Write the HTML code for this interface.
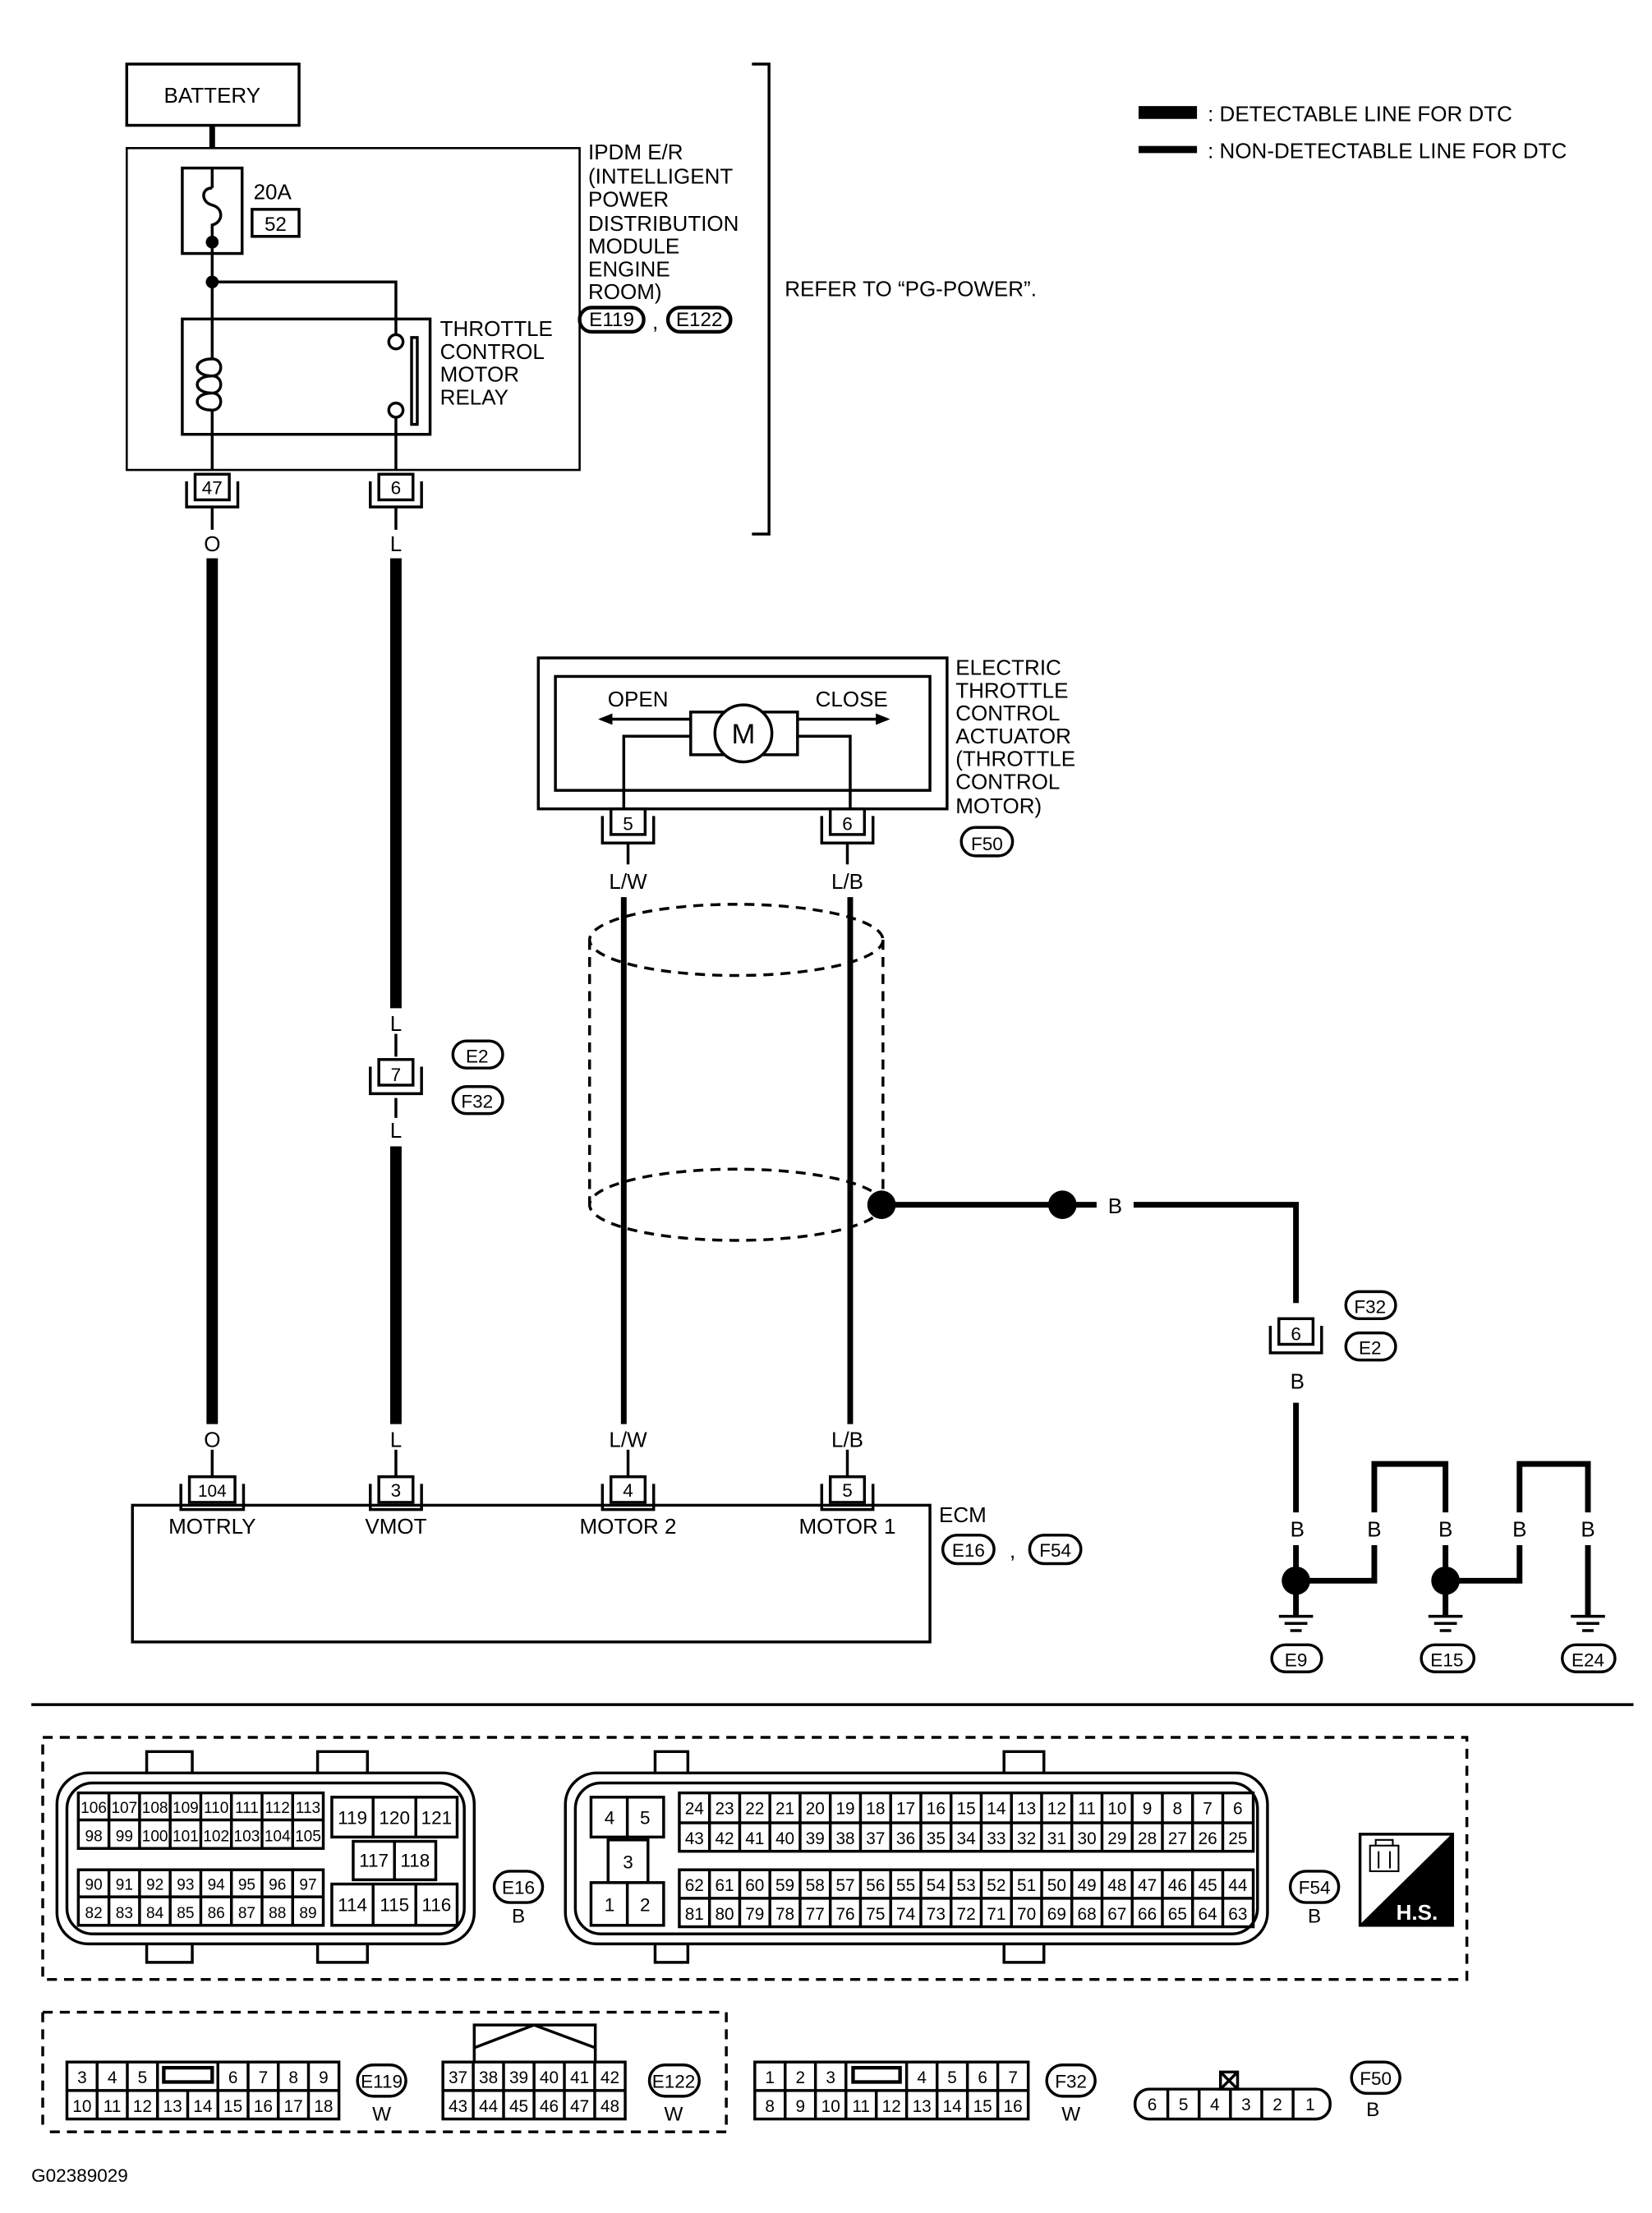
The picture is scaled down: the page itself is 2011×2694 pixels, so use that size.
<!DOCTYPE html>
<html><head><meta charset="utf-8"><style>html,body{margin:0;padding:0;background:#fff}svg{display:block}</style></head><body>
<svg width="2011" height="2694" viewBox="0 0 1160 1554" preserveAspectRatio="none" xmlns="http://www.w3.org/2000/svg" font-family="Liberation Sans, sans-serif" fill="none" stroke="#000">
<rect x="0" y="0" width="1160" height="1554" fill="#fff" stroke="none"/>
<g stroke-width="2">
<rect x="89" y="45" width="121" height="43"/>
<line x1="149" y1="88" x2="149" y2="104" stroke-width="4"/>
<rect x="89" y="104" width="318" height="226" stroke-width="1.5"/>
<rect x="128" y="118" width="42" height="60"/>
<path d="M149 118 V132 M149 164 V178 M149 132 c-8 0 -8 10 0 12 c8 2 8 12 0 14 V164"/>
<line x1="149" y1="178" x2="149" y2="224"/>
<circle cx="149" cy="170" r="3.5" fill="#000"/>
<circle cx="149" cy="198" r="3.5" fill="#000"/>
<path d="M149 198 H278 V235"/>
<rect x="128" y="224" width="174" height="81"/>
<path d="M149 224 V252 M149 288 V330"/>
<path d="M149 252 c-14 0 -14 12 0 12 c-14 0 -14 12 0 12 c-14 0 -14 12 0 12" />
<path d="M149 252 c8 0 8 12 0 12 c8 0 8 12 0 12 c8 0 8 12 0 12"/>
<circle cx="278" cy="240" r="5"/>
<circle cx="278" cy="288" r="5"/>
<rect x="289" y="237" width="4" height="61"/>
<line x1="278" y1="293" x2="278" y2="330"/>
<rect x="177" y="147" width="33" height="19"/>
<rect x="137" y="333" width="24" height="18"/><path d="M131 338 V356 H167 V338"/>
<rect x="266" y="333" width="24" height="18"/><path d="M260 338 V356 H296 V338"/>
<path d="M528 45 H540 V375 H528"/>
<rect x="407" y="216" width="45" height="17" rx="8.5" stroke-width="2.5"/>
<rect x="469" y="216" width="44" height="17" rx="8.5" stroke-width="2.5"/>
</g>
<g fill="#000" stroke="none" font-size="15">
<text x="149" y="72" text-anchor="middle">BATTERY</text>
<text x="178" y="140">20A</text>
<text x="193.5" y="162" text-anchor="middle" font-size="14">52</text>
<text x="413" y="112">IPDM E/R</text>
<text x="413" y="129">(INTELLIGENT</text>
<text x="413" y="145">POWER</text>
<text x="413" y="162">DISTRIBUTION</text>
<text x="413" y="178">MODULE</text>
<text x="413" y="194">ENGINE</text>
<text x="413" y="210">ROOM)</text>
<text x="429.5" y="229" text-anchor="middle" font-size="14">E119</text>
<text x="491" y="229" text-anchor="middle" font-size="14">E122</text>
<text x="458" y="231">,</text>
<text x="309" y="236">THROTTLE</text>
<text x="309" y="252">CONTROL</text>
<text x="309" y="268">MOTOR</text>
<text x="309" y="284">RELAY</text>
<text x="149" y="347" text-anchor="middle" font-size="13">47</text>
<text x="278" y="347" text-anchor="middle" font-size="13">6</text>
<text x="551" y="208">REFER TO “PG-POWER”.</text>
<text x="848" y="85">: DETECTABLE LINE FOR DTC</text>
<text x="848" y="111">: NON-DETECTABLE LINE FOR DTC</text>
</g>
<rect x="800" y="75" width="40" height="8" fill="#000"/>
<rect x="800" y="103" width="40" height="4" fill="#000"/>

<g stroke-width="8">
<line x1="149" y1="392" x2="149" y2="1000"/>
<line x1="278" y1="392" x2="278" y2="708"/>
<line x1="278" y1="805" x2="278" y2="1000"/>
</g>
<g stroke-width="2">
<line x1="149" y1="356" x2="149" y2="372"/>
<line x1="278" y1="356" x2="278" y2="372"/>
<line x1="149" y1="1018" x2="149" y2="1037"/>
<line x1="278" y1="1018" x2="278" y2="1037"/>
<line x1="278" y1="726" x2="278" y2="742"/>
<line x1="278" y1="771" x2="278" y2="785"/>
<rect x="266" y="744" width="24" height="18"/><path d="M260 749 V768 H296 V749"/>
<rect x="318" y="731" width="35" height="19" rx="9.5"/>
<rect x="318" y="763" width="35" height="19" rx="9.5"/>
</g>
<g fill="#000" stroke="none" font-size="15" text-anchor="middle">
<text x="149" y="387">O</text><text x="278" y="387">L</text>
<text x="278" y="724">L</text><text x="278" y="759" font-size="13">7</text>
<text x="278" y="799">L</text>
<text x="335" y="746" font-size="13">E2</text><text x="335" y="778" font-size="13">F32</text>
<text x="149" y="1016">O</text><text x="278" y="1016">L</text>
<text x="441" y="1016">L/W</text><text x="595" y="1016">L/B</text>
</g>

<g stroke-width="2">
<rect x="378" y="462" width="287" height="106"/>
<rect x="390" y="475" width="263" height="80"/>
<rect x="485" y="500" width="75" height="30"/>
<circle cx="522" cy="515" r="20" fill="#fff"/>
<path d="M485 505 H422 M560 505 H623"/>
<path d="M485 517 H438 V568 M560 517 H597 V568"/>
<rect x="429" y="568" width="24" height="18"/><path d="M423 573 V592 H459 V573"/>
<rect x="583" y="568" width="24" height="18"/><path d="M577 573 V592 H613 V573"/>
<rect x="675" y="581" width="36" height="20" rx="10"/>
</g>
<path d="M420 505 l10 -4 v8 z M625 505 l-10 -4 v8 z" fill="#000" stroke="none"/>
<g fill="#000" stroke="none" font-size="15">
<text x="522" y="522" text-anchor="middle" font-size="20">M</text>
<text x="448" y="496" text-anchor="middle">OPEN</text>
<text x="598" y="496" text-anchor="middle">CLOSE</text>
<text x="441" y="583" text-anchor="middle" font-size="13">5</text>
<text x="595" y="583" text-anchor="middle" font-size="13">6</text>
<text x="693" y="597" text-anchor="middle" font-size="13">F50</text>
<text x="671" y="474">ELECTRIC</text>
<text x="671" y="490">THROTTLE</text>
<text x="671" y="506">CONTROL</text>
<text x="671" y="522">ACTUATOR</text>
<text x="671" y="538">(THROTTLE</text>
<text x="671" y="554">CONTROL</text>
<text x="671" y="571">MOTOR)</text>
<text x="441" y="624" text-anchor="middle">L/W</text>
<text x="595" y="624" text-anchor="middle">L/B</text>
</g>
<g stroke-width="4">
<line x1="438" y1="630" x2="438" y2="1000"/>
<line x1="597" y1="630" x2="597" y2="1000"/>
</g>
<g stroke-width="2">
<line x1="441" y1="1018" x2="441" y2="1037"/>
<line x1="595" y1="1018" x2="595" y2="1037"/>
<line x1="441" y1="592" x2="441" y2="607"/><line x1="595" y1="592" x2="595" y2="607"/>
</g>
<g stroke-width="2" stroke-dasharray="7,5">
<ellipse cx="517" cy="660" rx="103" ry="25"/>
<ellipse cx="517" cy="846" rx="103" ry="25"/>
<line x1="414" y1="660" x2="414" y2="846"/>
<line x1="620" y1="660" x2="620" y2="846"/>
</g>
<circle cx="619" cy="846" r="10" fill="#000" stroke="none"/>
<circle cx="746" cy="846" r="10" fill="#000" stroke="none"/>
<g stroke-width="4">
<path d="M619 846 H770 M796 846 H910 V915"/>
<line x1="910" y1="985" x2="910" y2="1062"/>
<line x1="910" y1="1085" x2="910" y2="1110"/>
<path d="M910 1110 H965 V1085 M965 1062 V1028 H1015 V1062 M1015 1085 V1110 H1067 V1085 M1067 1062 V1028 H1115 V1062 M1115 1085 V1135"/>
<line x1="1015" y1="1110" x2="1015" y2="1135"/>
<line x1="910" y1="1110" x2="910" y2="1135"/>
</g>
<circle cx="910" cy="1110" r="10" fill="#000" stroke="none"/>
<circle cx="1015" cy="1110" r="10" fill="#000" stroke="none"/>
<g stroke-width="2">
<path d="M898 1135 H922 M902 1140 H918 M906 1145 H914"/>
<path d="M1003 1135 H1027 M1007 1140 H1023 M1011 1145 H1019"/>
<path d="M1103 1135 H1127 M1107 1140 H1123 M1111 1145 H1119"/>
<rect x="893" y="1155" width="35" height="19" rx="9.5"/>
<rect x="998" y="1155" width="37" height="19" rx="9.5"/>
<rect x="1097" y="1155" width="37" height="19" rx="9.5"/>
<rect x="898" y="926" width="24" height="18"/><path d="M892 931 V950 H928 V931"/>
<rect x="945" y="907" width="35" height="19" rx="9.5"/>
<rect x="945" y="936" width="35" height="19" rx="9.5"/>
</g>
<g fill="#000" stroke="none" font-size="15" text-anchor="middle">
<text x="783" y="852">B</text>
<text x="910" y="941" font-size="13">6</text>
<text x="962" y="922" font-size="13">F32</text>
<text x="962" y="951" font-size="13">E2</text>
<text x="911" y="975">B</text>
<text x="911" y="1079">B</text><text x="965" y="1079">B</text><text x="1015" y="1079">B</text>
<text x="1067" y="1079">B</text><text x="1115" y="1079">B</text>
<text x="910" y="1170" font-size="13">E9</text>
<text x="1016" y="1170" font-size="13">E15</text>
<text x="1115" y="1170" font-size="13">E24</text>
</g>

<g stroke-width="2">
<rect x="93" y="1057" width="560" height="96"/>
<rect x="133" y="1037" width="32" height="18"/><path d="M127 1042 V1060 H171 V1042"/>
<rect x="266" y="1037" width="24" height="18"/><path d="M260 1042 V1060 H296 V1042"/>
<rect x="429" y="1037" width="24" height="18"/><path d="M423 1042 V1060 H459 V1042"/>
<rect x="583" y="1037" width="24" height="18"/><path d="M577 1042 V1060 H613 V1042"/>
<rect x="662" y="1078" width="36" height="20" rx="10"/>
<rect x="723" y="1078" width="36" height="20" rx="10"/>
</g>
<g fill="#000" stroke="none" font-size="15" text-anchor="middle">
<text x="149" y="1051" font-size="12">104</text>
<text x="278" y="1051" font-size="13">3</text>
<text x="441" y="1051" font-size="13">4</text>
<text x="595" y="1051" font-size="13">5</text>
<text x="149" y="1077">MOTRLY</text>
<text x="278" y="1077">VMOT</text>
<text x="441" y="1077">MOTOR 2</text>
<text x="595" y="1077">MOTOR 1</text>
<text x="676" y="1069">ECM</text>
<text x="680" y="1093" font-size="13">E16</text>
<text x="711" y="1094">,</text>
<text x="741" y="1093" font-size="13">F54</text>
</g>

<line x1="22" y1="1197" x2="1147" y2="1197" stroke-width="2"/>

<g stroke-width="2" stroke-dasharray="7,5">
<rect x="30" y="1220" width="1000" height="170"/>
<path d="M30 1413 H510 V1497 H30"/>
<line x1="30" y1="1413" x2="30" y2="1497"/>
</g>
<g stroke-width="2">
<rect x="40" y="1245" width="293" height="120" rx="22"/>
<rect x="47" y="1252" width="279" height="106" rx="18"/>
<path d="M103 1245 V1230 H135 V1245 M103 1365 V1378 H135 V1365 M223 1245 V1230 H258 V1245 M223 1365 V1378 H258 V1365"/>
<rect x="55" y="1259" width="172" height="39"/>
<line x1="55" y1="1278" x2="227" y2="1278"/>
<rect x="55" y="1313" width="172" height="39"/>
<line x1="55" y1="1332" x2="227" y2="1332"/>
<path d="M76.5 1259V1298M98 1259V1298M119.5 1259V1298M141 1259V1298M162.5 1259V1298M184 1259V1298M205.5 1259V1298"/>
<path d="M76.5 1313V1352M98 1313V1352M119.5 1313V1352M141 1313V1352M162.5 1313V1352M184 1313V1352M205.5 1313V1352"/>
<rect x="233" y="1262" width="88" height="28"/><path d="M262 1262V1290M292 1262V1290"/>
<rect x="248" y="1293" width="58" height="27"/><line x1="277" y1="1293" x2="277" y2="1320"/>
<rect x="233" y="1323" width="88" height="29"/><path d="M262 1323V1352M292 1323V1352"/>
<rect x="347" y="1314" width="34" height="22" rx="11"/>
<rect x="397" y="1245" width="493" height="120" rx="22"/>
<rect x="404" y="1252" width="479" height="106" rx="18"/>
<path d="M460 1245 V1230 H483 V1245 M460 1365 V1378 H483 V1365 M705 1245 V1230 H733 V1245 M705 1365 V1378 H733 V1365"/>
<rect x="415" y="1262" width="51" height="28"/><line x1="440.5" y1="1262" x2="440.5" y2="1290"/>
<rect x="427" y="1292" width="28" height="30"/>
<rect x="415" y="1322" width="51" height="30"/><line x1="440.5" y1="1322" x2="440.5" y2="1352"/>
<rect x="477" y="1259" width="403" height="41"/><line x1="477" y1="1280" x2="880" y2="1280"/>
<rect x="477" y="1313" width="403" height="40"/><line x1="477" y1="1333" x2="880" y2="1333"/>
<path d="M498.2 1259V1300M519.4 1259V1300M540.6 1259V1300M561.8 1259V1300M583 1259V1300M604.2 1259V1300M625.4 1259V1300M646.6 1259V1300M667.8 1259V1300M689 1259V1300M710.2 1259V1300M731.4 1259V1300M752.6 1259V1300M773.8 1259V1300M795 1259V1300M816.2 1259V1300M837.4 1259V1300M858.6 1259V1300"/>
<path d="M498.2 1313V1353M519.4 1313V1353M540.6 1313V1353M561.8 1313V1353M583 1313V1353M604.2 1313V1353M625.4 1313V1353M646.6 1313V1353M667.8 1313V1353M689 1313V1353M710.2 1313V1353M731.4 1313V1353M752.6 1313V1353M773.8 1313V1353M795 1313V1353M816.2 1313V1353M837.4 1313V1353M858.6 1313V1353"/>
<rect x="906" y="1314" width="34" height="22" rx="11"/>
<rect x="955" y="1288" width="65" height="64"/>
</g>
<path d="M1020 1288 V1352 H955 Z" fill="#000"/>
<g stroke-width="1.2"><rect x="962" y="1296" width="20" height="18"/><path d="M966 1296 V1292 H978 V1296 M968 1300 V1312 M976 1300 V1312"/></g>
<g fill="#000" stroke="none" font-size="11" text-anchor="middle" font-family="Liberation Sans Narrow, Liberation Sans, sans-serif">
<text x="65.8" y="1273">106</text><text x="87.3" y="1273">107</text><text x="108.8" y="1273">108</text><text x="130.3" y="1273">109</text><text x="151.8" y="1273">110</text><text x="173.3" y="1273">111</text><text x="194.8" y="1273">112</text><text x="216.3" y="1273">113</text>
<text x="65.8" y="1293">98</text><text x="87.3" y="1293">99</text><text x="108.8" y="1293">100</text><text x="130.3" y="1293">101</text><text x="151.8" y="1293">102</text><text x="173.3" y="1293">103</text><text x="194.8" y="1293">104</text><text x="216.3" y="1293">105</text>
<text x="65.8" y="1327">90</text><text x="87.3" y="1327">91</text><text x="108.8" y="1327">92</text><text x="130.3" y="1327">93</text><text x="151.8" y="1327">94</text><text x="173.3" y="1327">95</text><text x="194.8" y="1327">96</text><text x="216.3" y="1327">97</text>
<text x="65.8" y="1347">82</text><text x="87.3" y="1347">83</text><text x="108.8" y="1347">84</text><text x="130.3" y="1347">85</text><text x="151.8" y="1347">86</text><text x="173.3" y="1347">87</text><text x="194.8" y="1347">88</text><text x="216.3" y="1347">89</text>
<g font-size="13"><text x="247.5" y="1281">119</text><text x="277" y="1281">120</text><text x="306.5" y="1281">121</text>
<text x="262.5" y="1311">117</text><text x="291.5" y="1311">118</text>
<text x="247.5" y="1342">114</text><text x="277" y="1342">115</text><text x="306.5" y="1342">116</text>
<text x="428" y="1281">4</text><text x="453" y="1281">5</text><text x="441" y="1312">3</text>
<text x="428" y="1342">1</text><text x="453" y="1342">2</text></g>
<g font-size="12">
<text x="487.6" y="1274">24</text><text x="508.8" y="1274">23</text><text x="530" y="1274">22</text><text x="551.2" y="1274">21</text><text x="572.4" y="1274">20</text><text x="593.6" y="1274">19</text><text x="614.8" y="1274">18</text><text x="636" y="1274">17</text><text x="657.2" y="1274">16</text><text x="678.4" y="1274">15</text><text x="699.6" y="1274">14</text><text x="720.8" y="1274">13</text><text x="742" y="1274">12</text><text x="763.2" y="1274">11</text><text x="784.4" y="1274">10</text><text x="805.6" y="1274">9</text><text x="826.8" y="1274">8</text><text x="848" y="1274">7</text><text x="869.2" y="1274">6</text>
<text x="487.6" y="1295">43</text><text x="508.8" y="1295">42</text><text x="530" y="1295">41</text><text x="551.2" y="1295">40</text><text x="572.4" y="1295">39</text><text x="593.6" y="1295">38</text><text x="614.8" y="1295">37</text><text x="636" y="1295">36</text><text x="657.2" y="1295">35</text><text x="678.4" y="1295">34</text><text x="699.6" y="1295">33</text><text x="720.8" y="1295">32</text><text x="742" y="1295">31</text><text x="763.2" y="1295">30</text><text x="784.4" y="1295">29</text><text x="805.6" y="1295">28</text><text x="826.8" y="1295">27</text><text x="848" y="1295">26</text><text x="869.2" y="1295">25</text>
<text x="487.6" y="1328">62</text><text x="508.8" y="1328">61</text><text x="530" y="1328">60</text><text x="551.2" y="1328">59</text><text x="572.4" y="1328">58</text><text x="593.6" y="1328">57</text><text x="614.8" y="1328">56</text><text x="636" y="1328">55</text><text x="657.2" y="1328">54</text><text x="678.4" y="1328">53</text><text x="699.6" y="1328">52</text><text x="720.8" y="1328">51</text><text x="742" y="1328">50</text><text x="763.2" y="1328">49</text><text x="784.4" y="1328">48</text><text x="805.6" y="1328">47</text><text x="826.8" y="1328">46</text><text x="848" y="1328">45</text><text x="869.2" y="1328">44</text>
<text x="487.6" y="1348">81</text><text x="508.8" y="1348">80</text><text x="530" y="1348">79</text><text x="551.2" y="1348">78</text><text x="572.4" y="1348">77</text><text x="593.6" y="1348">76</text><text x="614.8" y="1348">75</text><text x="636" y="1348">74</text><text x="657.2" y="1348">73</text><text x="678.4" y="1348">72</text><text x="699.6" y="1348">71</text><text x="720.8" y="1348">70</text><text x="742" y="1348">69</text><text x="763.2" y="1348">68</text><text x="784.4" y="1348">67</text><text x="805.6" y="1348">66</text><text x="826.8" y="1348">65</text><text x="848" y="1348">64</text><text x="869.2" y="1348">63</text>
</g>
</g>
<g fill="#000" stroke="none" font-size="14" text-anchor="middle">
<text x="364" y="1330" font-size="13">E16</text><text x="364" y="1350">B</text>
<text x="923" y="1330" font-size="13">F54</text><text x="923" y="1350">B</text>
<text x="995" y="1348" fill="#fff" font-weight="bold" font-size="15">H.S.</text>
</g>

<g stroke-width="2">
<rect x="47" y="1448" width="191" height="40"/><line x1="47" y1="1468" x2="238" y2="1468"/>
<path d="M68.2 1448V1488M89.4 1448V1488M110.6 1448V1468M131.8 1468V1488M153 1448V1488M174.2 1448V1488M195.4 1448V1488M216.6 1448V1488M110.6 1468V1488"/>
<rect x="115" y="1452" width="34" height="10" stroke-width="2.5"/>
<rect x="251" y="1450" width="34" height="22" rx="11"/>
<rect x="311" y="1448" width="128" height="40"/><line x1="311" y1="1468" x2="439" y2="1468"/>
<path d="M332.3 1448V1488M353.6 1448V1488M375 1448V1488M396.3 1448V1488M417.6 1448V1488"/>
<path d="M333 1448 V1422 H418 V1448 M333 1438 L375 1422 L418 1438"/>
<rect x="456" y="1450" width="35" height="22" rx="11"/>
<rect x="530" y="1448" width="192" height="40"/><line x1="530" y1="1468" x2="722" y2="1468"/>
<path d="M551.3 1448V1488M572.6 1448V1488M594 1448V1488M615.3 1468V1488M636.6 1448V1488M658 1448V1488M679.3 1448V1488M700.6 1448V1488"/>
<rect x="599" y="1452" width="33" height="10" stroke-width="2.5"/>
<rect x="735" y="1450" width="34" height="22" rx="11"/>
<rect x="797" y="1467" width="137" height="21" rx="10"/>
<path d="M820 1467V1488M842 1467V1488M864 1467V1488M886 1467V1488M908 1467V1488"/>
<rect x="857" y="1455" width="12" height="12"/><path d="M857 1455 L869 1467 M869 1455 L857 1467"/>
<rect x="949" y="1448" width="34" height="22" rx="11"/>
</g>
<g fill="#000" stroke="none" font-size="12" text-anchor="middle">
<text x="57.6" y="1463">3</text><text x="78.8" y="1463">4</text><text x="100" y="1463">5</text><text x="163.6" y="1463">6</text><text x="184.8" y="1463">7</text><text x="206" y="1463">8</text><text x="227.2" y="1463">9</text>
<text x="57.6" y="1483">10</text><text x="78.8" y="1483">11</text><text x="100" y="1483">12</text><text x="121.2" y="1483">13</text><text x="142.4" y="1483">14</text><text x="163.6" y="1483">15</text><text x="184.8" y="1483">16</text><text x="206" y="1483">17</text><text x="227.2" y="1483">18</text>
<text x="321.6" y="1463">37</text><text x="343" y="1463">38</text><text x="364.3" y="1463">39</text><text x="385.6" y="1463">40</text><text x="407" y="1463">41</text><text x="428.3" y="1463">42</text>
<text x="321.6" y="1483">43</text><text x="343" y="1483">44</text><text x="364.3" y="1483">45</text><text x="385.6" y="1483">46</text><text x="407" y="1483">47</text><text x="428.3" y="1483">48</text>
<text x="540.6" y="1463">1</text><text x="562" y="1463">2</text><text x="583.3" y="1463">3</text><text x="647.3" y="1463">4</text><text x="668.6" y="1463">5</text><text x="690" y="1463">6</text><text x="711.3" y="1463">7</text>
<text x="540.6" y="1483">8</text><text x="562" y="1483">9</text><text x="583.3" y="1483">10</text><text x="604.6" y="1483">11</text><text x="626" y="1483">12</text><text x="647.3" y="1483">13</text><text x="668.6" y="1483">14</text><text x="690" y="1483">15</text><text x="711.3" y="1483">16</text>
<text x="809" y="1482">6</text><text x="831" y="1482">5</text><text x="853" y="1482">4</text><text x="875" y="1482">3</text><text x="897" y="1482">2</text><text x="920" y="1482">1</text>
<g font-size="13"><text x="268" y="1466">E119</text><text x="473" y="1466">E122</text><text x="752" y="1466">F32</text><text x="966" y="1464">F50</text></g>
<g font-size="14"><text x="268" y="1489">W</text><text x="473" y="1489">W</text><text x="752" y="1489">W</text><text x="964" y="1486">B</text></g>
<text x="22" y="1532" text-anchor="start" font-size="13">G02389029</text>
</g>
</svg>
</body></html>
